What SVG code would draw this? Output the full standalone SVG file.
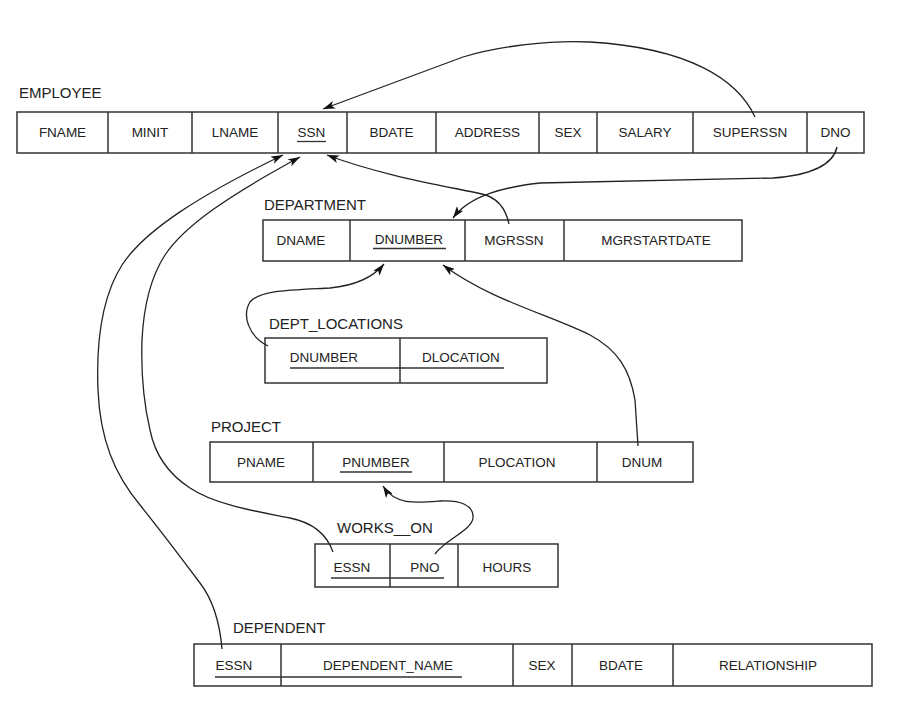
<svg xmlns="http://www.w3.org/2000/svg" width="915" height="713" viewBox="0 0 915 713">
<style>
.box{fill:#fff;stroke:#333;stroke-width:1.5}
.div{stroke:#333;stroke-width:1.5}
.t{font-family:"Liberation Sans",Arial,sans-serif;font-size:13.5px;fill:#222;text-anchor:middle}
.lbl{font-family:"Liberation Sans",Arial,sans-serif;font-size:15px;fill:#222}
.ul{stroke:#333;stroke-width:1.3}
.c{fill:none;stroke:#222;stroke-width:1.3;marker-end:url(#arr)}
</style>
<defs>
<marker id="arr" markerUnits="userSpaceOnUse" markerWidth="13" markerHeight="8" refX="12" refY="4" orient="auto">
<path d="M0,0 L12,4 L0,8 L3,4 z" fill="#111"/>
</marker>
</defs>
<rect width="915" height="713" fill="#fff"/>

<g id="employee">
<text class="lbl" x="19" y="98">EMPLOYEE</text>
<rect class="box" x="17" y="112" width="847" height="41"/>
<path class="div" d="M108,112V153M192,112V153M278,112V153M347,112V153M436,112V153M539,112V153M597,112V153M693,112V153M807,112V153"/>
<text class="t" x="62.5" y="137">FNAME</text>
<text class="t" x="150" y="137">MINIT</text>
<text class="t" x="235" y="137">LNAME</text>
<text class="t" x="311.5" y="137">SSN</text>
<line class="ul" x1="297" y1="141.5" x2="326" y2="141.5"/>
<text class="t" x="391.5" y="137">BDATE</text>
<text class="t" x="487.5" y="137">ADDRESS</text>
<text class="t" x="568" y="137">SEX</text>
<text class="t" x="645" y="137">SALARY</text>
<text class="t" x="750" y="137">SUPERSSN</text>
<text class="t" x="835.5" y="137">DNO</text>
</g>

<g id="department">
<text class="lbl" x="264" y="210">DEPARTMENT</text>
<rect class="box" x="263" y="220" width="479" height="41"/>
<path class="div" d="M350,220V261M465,220V261M564,220V261"/>
<text class="t" x="301" y="245">DNAME</text>
<text class="t" x="409" y="244">DNUMBER</text>
<line class="ul" x1="373" y1="248.5" x2="446" y2="248.5"/>
<text class="t" x="514" y="245">MGRSSN</text>
<text class="t" x="656" y="245">MGRSTARTDATE</text>
</g>

<g id="dept_locations">
<text class="lbl" x="269" y="329">DEPT_LOCATIONS</text>
<rect class="box" x="265" y="338" width="282" height="45"/>
<path class="div" d="M400,338V383"/>
<text class="t" x="324" y="362">DNUMBER</text>
<text class="t" x="461" y="362">DLOCATION</text>
<line class="ul" x1="290" y1="368" x2="504" y2="368"/>
</g>

<g id="project">
<text class="lbl" x="211" y="432">PROJECT</text>
<rect class="box" x="210" y="442" width="483" height="40"/>
<path class="div" d="M313,442V482M444,442V482M597,442V482"/>
<text class="t" x="261" y="467">PNAME</text>
<text class="t" x="376" y="467">PNUMBER</text>
<line class="ul" x1="340" y1="472" x2="412" y2="472"/>
<text class="t" x="517" y="467">PLOCATION</text>
<text class="t" x="642" y="467">DNUM</text>
</g>

<g id="works_on">
<text class="lbl" x="337" y="533">WORKS__ON</text>
<rect class="box" x="315" y="544" width="243" height="43"/>
<path class="div" d="M390,544V587M458,544V587"/>
<text class="t" x="352" y="572">ESSN</text>
<text class="t" x="425" y="572">PNO</text>
<line class="ul" x1="331" y1="578" x2="444" y2="578"/>
<text class="t" x="507" y="572">HOURS</text>
</g>

<g id="dependent">
<text class="lbl" x="233" y="633">DEPENDENT</text>
<rect class="box" x="194" y="644" width="678" height="42"/>
<path class="div" d="M281,644V686M513,644V686M572,644V686M673,644V686"/>
<text class="t" x="234" y="670">ESSN</text>
<text class="t" x="388" y="670">DEPENDENT_NAME</text>
<line class="ul" x1="215" y1="677" x2="462" y2="677"/>
<text class="t" x="542" y="670">SEX</text>
<text class="t" x="621" y="670">BDATE</text>
<text class="t" x="768" y="670">RELATIONSHIP</text>
</g>

<g id="connectors">
<path class="c" d="M755,117 C738,80 690,48 590,42 C550,40 500,46 463,57 L323,109"/>
<path class="c" d="M837,147 C832,170 800,176 773,178 L540,183 C505,187 470,195 453,218"/>
<path class="c" d="M509,224 C505,205 495,197 482,194 C440,185 380,175 327,155"/>
<path class="c" d="M268,346 C248,336 242,315 250,302 C260,290 290,290 330,288 C360,285 375,275 384,264"/>
<path class="c" d="M638,446 L635,400 C630,370 618,350 590,335 C550,315 490,300 443,265"/>
<path class="c" d="M435,554 C445,540 472,530 473,518 C474,505 460,500 440,501 C415,503 395,505 383,486"/>
<path class="c" d="M333,552 C326,532 310,522 290,518 C260,512 215,505 190,488 C170,475 155,455 150,430 C143,400 141,370 142,340 C144,300 152,275 165,255 C185,225 230,195 300,157"/>
<path class="c" d="M222,649 C220,625 213,600 200,583 C185,563 160,530 140,505 C115,475 100,440 98,390 C96,340 103,295 122,265 C145,230 200,195 283,155"/>
</g>
</svg>
